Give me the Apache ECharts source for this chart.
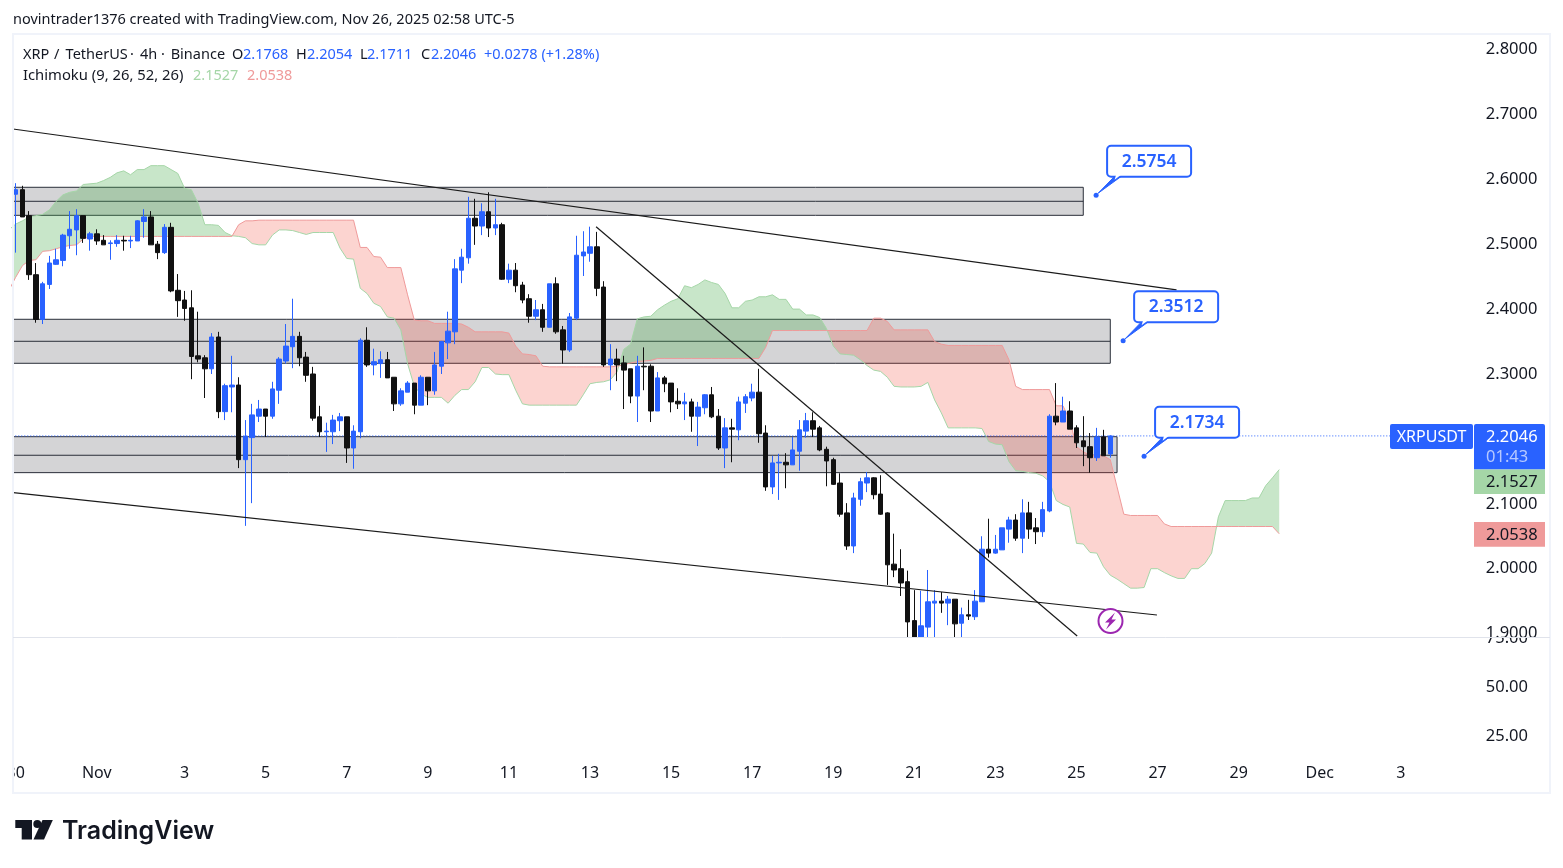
<!DOCTYPE html>
<html><head><meta charset="utf-8">
<script src="https://cdn.jsdelivr.net/npm/echarts@6/dist/echarts.min.js"></script>
<style>html,body{margin:0;padding:0;background:#fff}#c{width:1563px;height:868px}</style>
</head><body><div id="c"></div>
<script>
const opens=[2.577,2.584,2.544,2.453,2.384,2.438,2.469,2.475,2.513,2.522,
2.544,2.508,2.516,2.506,2.501,2.501,2.506,2.505,2.505,2.535,
2.542,2.500,2.487,2.526,2.429,2.414,2.402,2.328,2.325,2.308,
2.357,2.242,2.280,2.283,2.168,2.202,2.235,2.246,2.235,2.275,
2.320,2.342,2.358,2.326,2.300,2.234,2.211,2.211,2.228,2.234,
2.186,2.211,2.352,2.314,2.316,2.322,2.295,2.254,2.272,2.286,
2.252,2.295,2.274,2.312,2.348,2.365,2.460,2.479,2.540,2.528,
2.550,2.525,2.530,2.446,2.460,2.437,2.416,2.389,2.399,2.372,
2.439,2.368,2.337,2.386,2.482,2.486,2.496,2.434,2.314,2.323,
2.317,2.308,2.266,2.312,2.312,2.243,2.294,2.286,2.258,2.254,
2.257,2.235,2.248,2.268,2.235,2.186,2.217,2.214,2.255,2.263,
2.272,2.209,2.126,2.163,2.164,2.160,2.181,2.212,2.228,2.217,
2.184,2.168,2.132,2.086,2.035,2.107,2.132,2.140,2.115,2.086,
2.007,2.000,1.980,1.920,1.880,1.910,1.947,1.950,1.947,1.953,
1.916,1.929,1.926,1.949,2.030,2.024,2.029,2.061,2.075,2.047,
2.086,2.063,2.057,2.089,2.235,2.226,2.243,2.217,2.197,2.188,
2.171,2.203,2.1768];
const highs=[2.594,2.590,2.551,2.471,2.442,2.482,2.493,2.516,2.551,2.554,
2.544,2.519,2.523,2.514,2.506,2.514,2.513,2.513,2.537,2.554,
2.551,2.505,2.531,2.533,2.454,2.428,2.429,2.396,2.329,2.363,
2.365,2.285,2.328,2.295,2.229,2.254,2.260,2.246,2.288,2.326,
2.377,2.416,2.365,2.334,2.311,2.251,2.225,2.237,2.240,2.234,
2.221,2.355,2.372,2.339,2.335,2.334,2.295,2.278,2.289,2.286,
2.298,2.295,2.334,2.351,2.396,2.477,2.493,2.573,2.570,2.563,
2.580,2.570,2.533,2.470,2.471,2.442,2.423,2.414,2.408,2.439,
2.449,2.374,2.394,2.513,2.520,2.527,2.519,2.443,2.346,2.339,
2.328,2.308,2.328,2.341,2.315,2.303,2.297,2.286,2.278,2.271,
2.262,2.257,2.269,2.280,2.246,2.232,2.231,2.265,2.269,2.285,
2.308,2.221,2.174,2.177,2.178,2.203,2.229,2.240,2.241,2.220,
2.188,2.171,2.147,2.101,2.117,2.140,2.149,2.141,2.144,2.087,
2.054,2.030,1.997,1.967,1.966,1.998,1.967,1.964,1.958,1.953,
1.940,1.952,1.967,2.050,2.077,2.052,2.063,2.080,2.084,2.107,
2.103,2.078,2.103,2.238,2.286,2.265,2.258,2.221,2.235,2.209,
2.217,2.214,2.2054];
const lows=[2.487,2.542,2.445,2.379,2.377,2.431,2.468,2.466,2.493,2.483,
2.502,2.490,2.499,2.499,2.476,2.496,2.490,2.494,2.505,2.510,
2.499,2.477,2.485,2.426,2.388,2.382,2.292,2.318,2.263,2.300,
2.232,2.229,2.241,2.155,2.066,2.101,2.226,2.203,2.231,2.254,
2.316,2.309,2.312,2.288,2.228,2.203,2.180,2.192,2.212,2.163,
2.154,2.201,2.311,2.298,2.294,2.294,2.243,2.251,2.272,2.238,
2.252,2.252,2.268,2.300,2.323,2.346,2.440,2.470,2.499,2.514,
2.511,2.514,2.445,2.440,2.426,2.409,2.379,2.383,2.365,2.372,
2.362,2.316,2.334,2.383,2.451,2.473,2.420,2.311,2.275,2.289,
2.246,2.255,2.226,2.275,2.226,2.243,2.272,2.241,2.246,2.229,
2.211,2.189,2.238,2.232,2.183,2.155,2.164,2.198,2.240,2.258,
2.194,2.120,2.115,2.106,2.124,2.160,2.151,2.202,2.203,2.181,
2.127,2.129,2.080,2.029,2.024,2.097,2.118,2.107,2.083,1.975,
1.987,1.958,1.875,1.870,1.860,1.880,1.890,1.932,1.913,1.870,
1.880,1.921,1.921,1.949,2.017,2.023,2.029,2.040,2.043,2.024,
2.046,2.038,2.049,2.087,2.221,2.226,2.215,2.186,2.158,2.148,
2.166,2.174,2.1711];
const closes=[2.584,2.542,2.453,2.384,2.439,2.471,2.476,2.514,2.523,2.544,
2.509,2.516,2.505,2.499,2.502,2.506,2.505,2.506,2.536,2.542,
2.499,2.487,2.526,2.428,2.413,2.401,2.327,2.323,2.308,2.357,
2.242,2.282,2.283,2.168,2.204,2.237,2.246,2.235,2.277,2.323,
2.343,2.358,2.325,2.298,2.232,2.211,2.212,2.229,2.234,2.186,
2.212,2.352,2.314,2.319,2.322,2.294,2.254,2.274,2.286,2.252,
2.295,2.274,2.314,2.350,2.366,2.462,2.480,2.540,2.528,2.550,
2.525,2.530,2.446,2.460,2.436,2.414,2.389,2.399,2.372,2.439,
2.365,2.337,2.388,2.483,2.488,2.496,2.432,2.314,2.323,2.314,
2.306,2.266,2.312,2.311,2.243,2.294,2.285,2.257,2.254,2.257,
2.235,2.249,2.268,2.234,2.186,2.217,2.215,2.257,2.265,2.272,
2.208,2.126,2.163,2.164,2.160,2.183,2.214,2.228,2.215,2.183,
2.166,2.130,2.084,2.035,2.109,2.134,2.140,2.114,2.084,2.006,
1.998,1.978,1.918,1.885,1.912,1.949,1.950,1.947,1.953,1.915,
1.929,1.927,1.950,2.030,2.024,2.030,2.063,2.075,2.047,2.086,
2.061,2.057,2.091,2.235,2.226,2.243,2.215,2.194,2.188,2.171,
2.203,2.174,2.2046];
// Ichimoku leading spans; first value sits one bar before the first candle.
const cloudFirstBar=-1;
const leadingA=[2.522,
2.531,2.536,2.542,2.544,2.546,2.553,2.566,2.576,2.580,2.582,
2.592,2.593,2.594,2.598,2.603,2.610,2.613,2.607,2.615,2.615,
2.621,2.621,2.621,2.615,2.609,2.586,2.584,2.563,2.530,2.530,
2.529,2.518,2.513,2.512,2.510,2.501,2.499,2.499,2.514,2.522,
2.522,2.521,2.518,2.515,2.518,2.518,2.518,2.518,2.494,2.478,
2.477,2.432,2.424,2.409,2.404,2.388,2.386,2.368,2.316,2.281,
2.269,2.264,2.264,2.264,2.255,2.267,2.276,2.276,2.288,2.310,
2.310,2.300,2.299,2.299,2.275,2.254,2.252,2.252,2.252,2.252,
2.252,2.252,2.252,2.252,2.268,2.285,2.287,2.288,2.291,2.303,
2.338,2.346,2.385,2.388,2.389,2.399,2.406,2.412,2.416,2.436,
2.433,2.438,2.445,2.441,2.438,2.424,2.402,2.402,2.412,2.414,
2.419,2.419,2.422,2.415,2.415,2.400,2.400,2.391,2.391,2.387,
2.370,2.343,2.331,2.330,2.329,2.322,2.313,2.306,2.304,2.295,
2.281,2.280,2.280,2.280,2.281,2.287,2.260,2.240,2.217,2.217,
2.217,2.217,2.217,2.216,2.196,2.192,2.191,2.165,2.151,2.150,
2.148,2.147,2.143,2.134,2.105,2.099,2.095,2.039,2.038,2.025,
2.024,2.003,1.990,1.984,1.977,1.970,1.970,1.971,2.000,2.000,
1.994,1.989,1.985,1.985,2.000,2.000,2.008,2.024,2.080,2.105,
2.105,2.105,2.105,2.109,2.109,2.128,2.140,2.1527];
const leadingB=[2.429,
2.449,2.467,2.475,2.476,2.489,2.490,2.493,2.496,2.498,2.499,
2.508,2.512,2.512,2.512,2.512,2.512,2.512,2.512,2.512,2.512,
2.512,2.512,2.512,2.512,2.512,2.512,2.512,2.512,2.512,2.512,
2.512,2.512,2.512,2.530,2.536,2.536,2.537,2.537,2.537,2.537,
2.537,2.537,2.537,2.537,2.537,2.537,2.537,2.537,2.537,2.537,
2.537,2.495,2.495,2.481,2.480,2.464,2.464,2.464,2.422,2.383,
2.382,2.382,2.378,2.378,2.378,2.378,2.377,2.372,2.365,2.365,
2.365,2.365,2.365,2.363,2.343,2.331,2.330,2.328,2.312,2.311,
2.311,2.311,2.311,2.311,2.311,2.311,2.311,2.311,2.311,2.312,
2.314,2.317,2.319,2.320,2.321,2.324,2.324,2.324,2.324,2.324,
2.324,2.324,2.324,2.324,2.324,2.324,2.324,2.324,2.324,2.324,
2.324,2.341,2.367,2.367,2.367,2.367,2.367,2.367,2.367,2.367,
2.367,2.367,2.367,2.367,2.367,2.367,2.367,2.386,2.386,2.381,
2.368,2.368,2.368,2.368,2.368,2.368,2.350,2.346,2.344,2.344,
2.344,2.344,2.344,2.344,2.344,2.344,2.344,2.322,2.281,2.276,
2.276,2.276,2.276,2.276,2.251,2.251,2.229,2.188,2.180,2.175,
2.174,2.174,2.168,2.126,2.084,2.082,2.082,2.082,2.082,2.082,
2.069,2.065,2.065,2.065,2.065,2.065,2.065,2.065,2.065,2.065,
2.065,2.065,2.065,2.065,2.065,2.065,2.065,2.0538];
const priceTicks=[2.8,2.7,2.6,2.5,2.4,2.3,2.1,2.0,1.9];
const lowerTicks=[75,50,25];
const dateTickBars=[0,12,25,37,49,61,73,85,97,109,121,133,145,157,169,181,193,205];
const dateTickLabels=['30','Nov','3','5','7','9','11','13','15','17','19','21','23','25','27','29','Dec','3'];
const zoneTop=[2.5877,2.3843,2.2034];
const zoneMid=[2.5661,2.3504,2.1748];
const zoneBottom=[2.5445,2.3165,2.1480];
const zoneEndBar=[158,162,163];
const trendLines=[[[-0.4,2.6775],[171.8,2.4295]],[[-0.35,2.1172],[168.9,1.9287]],[[85.9,2.5270],[157.1,1.8964]]];
const calloutBars=[159.9,163.9,167];
const calloutPrices=[2.5754,2.3512,2.1734];
const lastPrice=2.2046;

const UP='#2962ff',DOWN='#111111',DARK='#131722';
const FONT='"Noto Sans"';
const BARS=216;
const categories=Array.from({length:BARS},(_,i)=>String(i));
const tickMap={};dateTickBars.forEach((b,i)=>tickMap[b]=dateTickLabels[i]);
const candleData=opens.map((o,i)=>[o,closes[i],lows[i],highs[i]]);

// contiguous runs of the cloud with the same sign, crossings included
const cloudRuns=[];
(function(){
  let cur=null;
  for(let k=0;k<leadingA.length;k++){
    const x=cloudFirstBar+k,a=leadingA[k],b=leadingB[k],up=a>=b;
    if(!cur){cur={up,pts:[[x,a,b]]};cloudRuns.push(cur);continue;}
    if(up!==cur.up){
      const pa=leadingA[k-1],pb=leadingB[k-1];
      const t=(pb-pa)/((a-pa)-(b-pb));
      const cy=pa+t*(a-pa),cx=x-1+t;
      cur.pts.push([cx,cy,cy]);
      cur={up,pts:[[cx,cy,cy]]};cloudRuns.push(cur);
    }
    cur.pts.push([x,a,b]);
  }
})();
const spanLine=(arr)=>arr.map((v,k)=>[cloudFirstBar+k,v]);

function T(x,y,text,fill,size,extra){
  return {type:'text',z:50,silent:true,style:Object.assign({x,y,text,fill:fill||DARK,font:(size||14.5)+'px '+FONT,textVerticalAlign:'middle'},extra||{})};
}
const graphic=[
 // clipped x label at the left edge, and the pane frame
 {type:'rect',z:40,shape:{x:0,y:762,width:13,height:22},style:{fill:'#fff'}},
 {type:'rect',z:41,shape:{x:13,y:34,width:1537,height:759},style:{fill:'none',stroke:'#f0f3fa',lineWidth:2}},
 {type:'rect',z:2,silent:true,shape:{x:1480,y:620,width:65,height:17},style:{fill:'#fff'}},
 {type:'line',z:41,shape:{x1:13,y1:637.5,x2:1550,y2:637.5},style:{stroke:'#e0e3eb',lineWidth:1}},
 T(13,20,'novintrader1376 created with TradingView.com, Nov 26, 2025 02:58 UTC-5'),
 T(23,54.5,'XRP'),T(54,54.5,'/'),T(65.6,54.5,'TetherUS'),T(130,54.5,'·'),T(140,54.5,'4h'),T(161,54.5,'·'),T(170.7,54.5,'Binance'),
 T(232,54.5,'O'),T(243,54.5,'2.1768',UP),
 T(296,54.5,'H'),T(307,54.5,'2.2054',UP),
 T(360,54.5,'L'),T(367,54.5,'2.1711',UP),
 T(421,54.5,'C'),T(431,54.5,'2.2046',UP),
 T(484,54.5,'+0.0278 (+1.28%)',UP),
 T(23,75.5,'Ichimoku (9, 26, 52, 26)',DARK,14.8),
 T(193,75.5,'2.1527','#a5d6a7'),T(247,75.5,'2.0538','#ef9a9a'),
 // price scale tags
 {type:'rect',z:45,shape:{x:1390,y:424,width:83,height:25,r:2},style:{fill:UP}},
 T(1431.5,437,'XRPUSDT','#fff',16,{textAlign:'center'}),
 {type:'rect',z:45,shape:{x:1474,y:424,width:71,height:45.5,r:[2,2,0,0]},style:{fill:UP}},
 T(1486,437.5,'2.2046','#fff',16.5),
 T(1486,457.5,'01:43','#b7c9ff',16.5),
 {type:'rect',z:45,shape:{x:1474,y:469.5,width:71,height:24.5},style:{fill:'#a5d6a7'}},
 T(1486,482.5,'2.1527',DARK,16.5),
 {type:'rect',z:45,shape:{x:1474,y:522,width:71,height:24.7},style:{fill:'#ef9a9a'}},
 T(1486,535,'2.0538',DARK,16.5),
 // alert badge
 {type:'circle',z:46,shape:{cx:1110.5,cy:621,r:12},style:{fill:'#fff',stroke:'#9c27b0',lineWidth:2}},
 {type:'polygon',z:47,shape:{points:[[1115,612.5],[1105,622.5],[1109.5,622.5],[1106,629.5],[1116,619.5],[1111.5,619.5]]},style:{fill:'#9c27b0'}},
 // logo
 {type:'polygon',z:50,shape:{points:[[15.3,820],[32,820],[32,839.5],[21.7,839.5],[21.7,828],[15.3,828]]},style:{fill:DARK}},
 {type:'circle',z:50,shape:{cx:37.3,cy:824,r:4},style:{fill:DARK}},
 {type:'polygon',z:50,shape:{points:[[42.5,820],[52.8,820],[44,839.5],[33.5,839.5]]},style:{fill:DARK}},
 T(62,831,'TradingView',DARK,25,{font:'600 25px Inter'})
];

const option={
 animation:false,
 backgroundColor:'#fff',
 grid:[
  {left:12.29,width:1459.5,top:35,height:602},
  {left:12.29,width:1459.5,top:637,height:123}
 ],
 xAxis:[
  {type:'category',gridIndex:0,data:categories,axisLine:{show:false},axisTick:{show:false},axisLabel:{show:false},splitLine:{show:false}},
  {type:'category',gridIndex:1,data:categories,axisLine:{show:false},axisTick:{show:false},splitLine:{show:false},
   axisLabel:{interval:(i)=>tickMap[i]!==undefined,formatter:(v)=>tickMap[v]||'',color:DARK,fontFamily:FONT,fontSize:16,margin:5,hideOverlap:false}},
  {type:'value',gridIndex:0,min:-0.5,max:215.5,show:false,splitLine:{show:false}}
 ],
 yAxis:[
  {type:'value',gridIndex:0,position:'right',min:1.89476,max:2.82234,z:3,axisLine:{show:false},axisTick:{show:false},splitLine:{show:false},
   axisLabel:{customValues:priceTicks,formatter:v=>v.toFixed(4),color:DARK,fontFamily:FONT,fontSize:16.5,margin:14,align:'left',padding:[4,0,0,0]}},
  {type:'value',gridIndex:1,position:'right',min:12.755,max:75.51,z:1,axisLine:{show:false},axisTick:{show:false},splitLine:{show:false},
   axisLabel:{customValues:lowerTicks,formatter:v=>v.toFixed(2),color:DARK,fontFamily:FONT,fontSize:16.5,margin:14,align:'left',padding:[4,0,0,0]}}
 ],
 graphic:{elements:graphic},
 series:[
  {type:'custom',name:'zones',xAxisIndex:2,yAxisIndex:0,z:1,silent:true,clip:true,
   data:zoneTop.map((p,i)=>[zoneEndBar[i],p]),
   renderItem:(params,api)=>{
     const i=params.dataIndex,L=params.coordSys.x;
     const R=api.coord([zoneEndBar[i],0])[0];
     const yT=api.coord([0,zoneTop[i]])[1],yM=api.coord([0,zoneMid[i]])[1],yB=api.coord([0,zoneBottom[i]])[1];
     const ln=(x1,y1,x2,y2)=>({type:'line',shape:{x1,y1,x2,y2},style:{stroke:'#2a2e39',lineWidth:1}});
     return {type:'group',children:[
       {type:'rect',shape:{x:L,y:yT,width:R-L,height:yB-yT},style:{fill:'rgba(125,125,130,0.33)'}},
       ln(L,yT,R,yT),ln(L,yM,R,yM),ln(L,yB,R,yB),ln(R,yT,R,yB)]};
   }},
  {type:'custom',name:'cloud',xAxisIndex:2,yAxisIndex:0,z:2,silent:true,clip:true,
   data:cloudRuns.map((r,i)=>[r.pts[0][0],r.pts[0][1]]),
   renderItem:(params,api)=>{
     const r=cloudRuns[params.dataIndex];
     const pts=r.pts.map(p=>api.coord([p[0],p[1]])).concat(r.pts.slice().reverse().map(p=>api.coord([p[0],p[2]])));
     return {type:'polygon',shape:{points:pts},style:{fill:r.up?'rgba(76,175,80,0.31)':'rgba(244,67,54,0.23)'}};
   }},
  {type:'line',name:'Leading Span A',xAxisIndex:2,yAxisIndex:0,z:2,silent:true,showSymbol:false,data:spanLine(leadingA),lineStyle:{color:'#a5d6a7',width:1}},
  {type:'line',name:'Leading Span B',xAxisIndex:2,yAxisIndex:0,z:2,silent:true,showSymbol:false,data:spanLine(leadingB),lineStyle:{color:'#ef9a9a',width:1}},
  {type:'line',name:'last',xAxisIndex:2,yAxisIndex:0,z:3,silent:true,showSymbol:false,data:[[-0.5,lastPrice],[215.5,lastPrice]],lineStyle:{color:UP,width:1,type:[1,2]}},
  {type:'candlestick',name:'XRPUSDT',xAxisIndex:0,yAxisIndex:0,z:4,barWidth:5,clip:true,data:candleData,silent:true,
   itemStyle:{color:UP,color0:DOWN,borderColor:UP,borderColor0:DOWN,borderWidth:1}},
  ...trendLines.map(l=>({type:'line',xAxisIndex:2,yAxisIndex:0,z:5,silent:true,showSymbol:false,data:l,lineStyle:{color:'#1a1a1a',width:1.2}})),
  {type:'custom',name:'bottomMask',xAxisIndex:2,yAxisIndex:0,z:5,silent:true,clip:false,data:[[0,1.9]],
   renderItem:(params)=>{const c=params.coordSys;return {type:'rect',shape:{x:c.x+0.8,y:c.y+c.height+1,width:c.width,height:40},style:{fill:'#fff'}};}},
  {type:'custom',name:'callouts',xAxisIndex:2,yAxisIndex:0,z:6,silent:true,clip:false,
   data:calloutPrices.map((p,i)=>[calloutBars[i],p]),
   renderItem:(params,api)=>{
     const i=params.dataIndex,c=api.coord([calloutBars[i],calloutPrices[i]]);
     const x=c[0]+11,y=c[1]-49.5;
     return {type:'group',children:[
       {type:'polygon',shape:{points:[[c[0]+2,c[1]-2],[x+8,y+30],[x+15,y+30]]},style:{fill:UP,stroke:UP,lineWidth:1}},
       {type:'rect',shape:{x,y,width:84,height:31,r:4},style:{fill:'#fff',stroke:UP,lineWidth:2}},
       {type:'polygon',shape:{points:[[x+9,y+29],[x+14,y+29],[x+7.5,y+34]]},style:{fill:'#fff'}},
       {type:'circle',shape:{cx:c[0],cy:c[1],r:2.5},style:{fill:UP}},
       {type:'text',style:{x:x+42,y:y+16,text:calloutPrices[i].toFixed(4),fill:UP,font:'600 17.5px '+FONT,textAlign:'center',textVerticalAlign:'middle'}}
     ]};
   }}
 ]
};
const chart=echarts.init(document.getElementById('c'),null,{renderer:'canvas'});
chart.setOption(option);
</script></body></html>
